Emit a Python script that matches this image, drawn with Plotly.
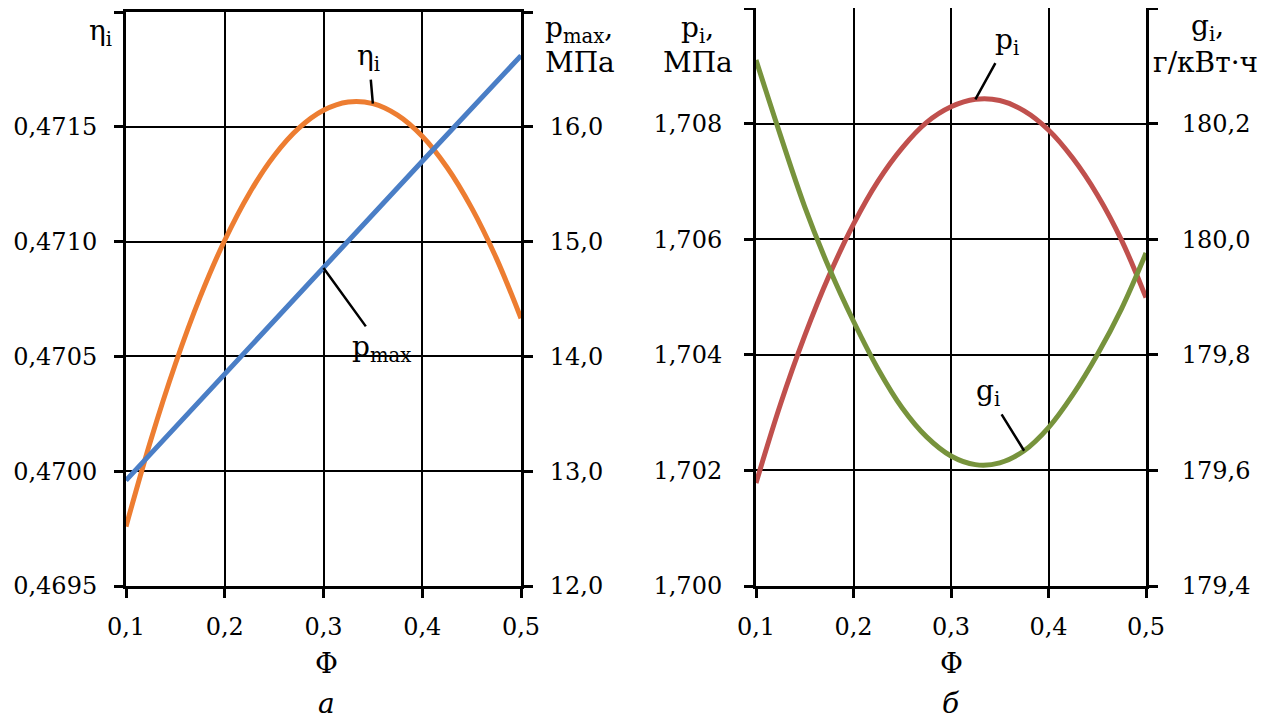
import plotly.graph_objects as go

# ---------------- data ----------------
phi = [0.100, 0.125, 0.150, 0.175, 0.200, 0.225, 0.250, 0.275, 0.300,
       0.325, 0.350, 0.375, 0.400, 0.425, 0.450, 0.475, 0.500]
eta_i = [0.469759, 0.470134, 0.470467, 0.470758, 0.471006, 0.471211, 0.471374, 0.471494,
         0.471572, 0.471608, 0.471601, 0.471551, 0.471459, 0.471324, 0.471147, 0.470928,
         0.470666]
phi_p = [0.1, 0.2, 0.3, 0.4, 0.5]
p_max = [12.92, 13.85, 14.77, 15.70, 16.62]
p_i = [1.70178, 1.70314, 1.70433, 1.70537, 1.70626, 1.70700, 1.70758, 1.70802, 1.70829,
       1.70842, 1.70840, 1.70822, 1.70789, 1.70740, 1.70677, 1.70598, 1.70499]
g_i = [180.310, 180.180, 180.056, 179.950, 179.858, 179.776, 179.708, 179.658, 179.625,
       179.610, 179.613, 179.634, 179.674, 179.731, 179.800, 179.880, 179.976]

x_ticks = [0.1, 0.2, 0.3, 0.4, 0.5]
x_text = ["0,1", "0,2", "0,3", "0,4", "0,5"]
eta_ticks = [0.4695, 0.4700, 0.4705, 0.4710, 0.4715, 0.4720]
eta_text = ["0,4695", "0,4700", "0,4705", "0,4710", "0,4715", ""]
pmax_ticks = [12.0, 13.0, 14.0, 15.0, 16.0, 17.0]
pmax_text = ["12,0", "13,0", "14,0", "15,0", "16,0", ""]
pi_ticks = [1.700, 1.702, 1.704, 1.706, 1.708, 1.710]
pi_text = ["1,700", "1,702", "1,704", "1,706", "1,708", ""]
gi_ticks = [179.4, 179.6, 179.8, 180.0, 180.2, 180.4]
gi_text = ["179,4", "179,6", "179,8", "180,0", "180,2", ""]

# ---------------- style ----------------
W, H = 1268, 719
OFF = 8  # page body margin
FONT = "DejaVu Serif"
FS = 24      # tick labels
FA = 28      # titles / curve labels
C_ETA = "#ED7D31"
C_PMAX = "#4A7EC6"
C_PI = "#C0504D"
C_GI = "#77933C"
LW = 5

def px(x):
    return (x - OFF) / W

def py(y):
    return 1 - (y - OFF) / H

dom_xa = [px(126), px(521)]
dom_xb = [px(756), px(1146)]
dom_ya = [py(586), py(12)]
dom_yb = [py(586), py(8)]

fig = go.Figure()
fig.add_trace(go.Scatter(x=phi, y=eta_i, xaxis="x", yaxis="y", mode="lines",
                         line=dict(color=C_ETA, width=LW, shape="spline"), name="η"))
fig.add_trace(go.Scatter(x=phi_p, y=p_max, xaxis="x", yaxis="y2", mode="lines",
                         line=dict(color=C_PMAX, width=LW), name="pmax"))
fig.add_trace(go.Scatter(x=phi, y=p_i, xaxis="x2", yaxis="y3", mode="lines",
                         line=dict(color=C_PI, width=LW, shape="spline"), name="pi"))
fig.add_trace(go.Scatter(x=phi, y=g_i, xaxis="x2", yaxis="y4", mode="lines",
                         line=dict(color=C_GI, width=LW, shape="spline"), name="gi"))

tickfont = dict(family=FONT, size=FS, color="black")
common_x = dict(range=[0.1, 0.5], tickvals=x_ticks, ticktext=x_text, showgrid=True,
                gridcolor="black", gridwidth=2, showline=True, linecolor="black",
                linewidth=3, mirror=True, ticks="outside", ticklen=9, tickwidth=3,
                tickcolor="black", tickfont=tickfont, zeroline=False, fixedrange=True,
                automargin=False, ticklabelstandoff=8)
common_y = dict(showgrid=True, gridcolor="black", gridwidth=2, showline=True,
                linecolor="black", linewidth=3, ticks="outside", ticklen=9, tickwidth=3,
                tickcolor="black", tickfont=tickfont, zeroline=False, fixedrange=True,
                automargin=False)

fig.update_layout(
    width=W, height=H,
    margin=dict(l=0, r=0, t=0, b=0, pad=0, autoexpand=False),
    paper_bgcolor="white", plot_bgcolor="white",
    showlegend=False,
    separators=", ",
    font=dict(family=FONT, size=FS, color="black"),
    xaxis=dict(domain=dom_xa, anchor="y", **common_x),
    xaxis2=dict(domain=dom_xb, anchor="y3", **common_x),
    yaxis=dict(domain=dom_ya, anchor="x", range=[0.4695, 0.4720], tickvals=eta_ticks,
               ticktext=eta_text, ticklabelstandoff=12, **common_y),
    yaxis2=dict(overlaying="y", anchor="x", side="right", range=[12.0, 17.0],
                tickvals=pmax_ticks, ticktext=pmax_text, ticklabelstandoff=12,
                **{**common_y, "showgrid": False}),
    yaxis3=dict(domain=dom_yb, anchor="x2", range=[1.700, 1.710], tickvals=pi_ticks,
                ticktext=pi_text, ticklabelstandoff=17, **common_y),
    yaxis4=dict(overlaying="y3", anchor="x2", side="right", range=[179.4, 180.4],
                tickvals=gi_ticks, ticktext=gi_text, ticklabelstandoff=19,
                **{**common_y, "showgrid": False}),
)

ann = []
def label(xp, yp, text, italic=False, xanchor="center"):
    t = f"<i>{text}</i>" if italic else text
    ann.append(dict(x=px(xp), y=py(yp), xref="paper", yref="paper", text=t,
                    showarrow=False, xanchor=xanchor, yanchor="middle",
                    font=dict(family=FONT, size=FA, color="black")))

# axis titles
label(100, 32, "η<sub>i</sub>")
label(543, 29, "p<sub>max</sub>,", xanchor="left")
label(543, 63, "МПа", xanchor="left")
label(698, 29, "p<sub>i</sub>,")
label(698, 63, "МПа")
label(1207, 27, "g<sub>i</sub>,")
label(1205, 63, "г/кВт·ч")
label(326, 663, "Φ")
label(951, 663, "Φ")
label(326, 703, "а", italic=True)
label(951, 703, "б", italic=True)

# curve pointers
def pointer(xref, yref, x, y, text, ax, ay):
    ann.append(dict(x=x, y=y, xref=xref, yref=yref, text=text, showarrow=True,
                    arrowhead=0, arrowwidth=2.5, arrowcolor="black", ax=ax, ay=ay,
                    standoff=0, startstandoff=2,
                    font=dict(family=FONT, size=FA, color="black")))

pointer("x", "y", phi[10], eta_i[10], "η<sub>i</sub>", -4, -46)
pointer("x", "y2", phi_p[2], p_max[2], "p<sub>max</sub>", 58, 80)
pointer("x2", "y3", phi[9], p_i[9], "p<sub>i</sub>", 32, -58)
pointer("x2", "y4", phi[11], g_i[11], "g<sub>i</sub>", -36, -58)

fig.update_layout(annotations=ann)
fig.write_html("out.html")
